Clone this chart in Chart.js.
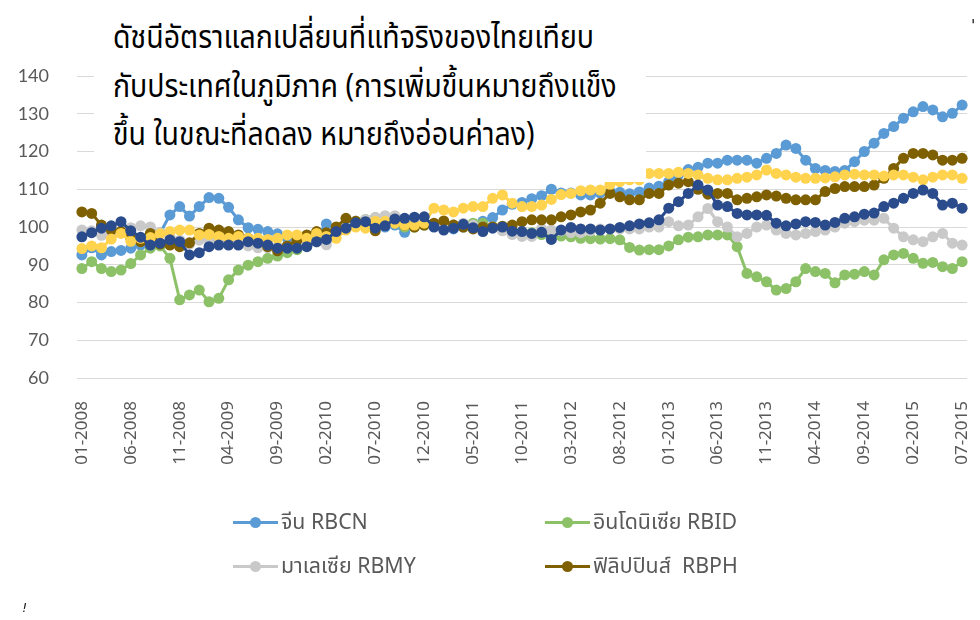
<!DOCTYPE html>
<html>
<head>
<meta charset="utf-8">
<script src="https://cdn.jsdelivr.net/npm/chart.js@4.4.0/dist/chart.umd.min.js"></script>
<style>
  html, body { margin: 0; padding: 0; background: #fff; }
  #wrap { position: relative; width: 980px; height: 620px; overflow: hidden; }
  #c { position: absolute; left: 0; top: 0; }
  #title {
    position: absolute; left: 94px; top: 8px; width: 552px; height: 174px;
    background: #fff; overflow: hidden;
  }
  #title div {
    position: absolute; left: 19px; white-space: nowrap; color: #000;
    font-family: "Noto Sans Thai", "Noto Sans", sans-serif; font-size: 32px; line-height: 40px;
    transform: scaleX(0.89); transform-origin: 0 0;
  }
  .lg { position: absolute; height: 24px; font-family: "Noto Sans Thai", "Noto Sans", sans-serif;
        font-size: 22px; color: #595959; white-space: pre; }
  .lg .sym { position: absolute; left: 0; top: 10px; width: 45px; height: 3px; }
  .lg .dot { position: absolute; left: 17px; top: 6px; width: 11px; height: 11px; border-radius: 50%; }
  .lg .txt { position: absolute; left: 48px; top: -5px; transform: scaleX(0.97); transform-origin: 0 0; }
  .mark { position: absolute; font-family: "DejaVu Sans", sans-serif; color: #222; }
</style>
</head>
<body>
<div id="wrap">
  <canvas id="c" width="980" height="620"></canvas>
  <div id="title">
    <div style="top:10px">ดัชนีอัตราแลกเปลี่ยนที่แท้จริงของไทยเทียบ</div>
    <div style="top:59px">กับประเทศในภูมิภาค (การเพิ่มขึ้นหมายถึงแข็ง</div>
    <div style="top:107px">ขึ้น ในขณะที่ลดลง หมายถึงอ่อนค่าลง)</div>
  </div>
  <span class="mark" style="left:971px; top:16px; font-size:16px;">'</span>
  <span class="mark" style="left:22px; top:600px; font-size:13px; font-style:italic;">!</span>
</div>
<script>
  // ==== DATA ====
  var months = [
    '01-2008','02-2008','03-2008','04-2008','05-2008','06-2008','07-2008','08-2008','09-2008','10-2008','11-2008','12-2008',
    '01-2009','02-2009','03-2009','04-2009','05-2009','06-2009','07-2009','08-2009','09-2009','10-2009','11-2009','12-2009',
    '01-2010','02-2010','03-2010','04-2010','05-2010','06-2010','07-2010','08-2010','09-2010','10-2010','11-2010','12-2010',
    '01-2011','02-2011','03-2011','04-2011','05-2011','06-2011','07-2011','08-2011','09-2011','10-2011','11-2011','12-2011',
    '01-2012','02-2012','03-2012','04-2012','05-2012','06-2012','07-2012','08-2012','09-2012','10-2012','11-2012','12-2012',
    '01-2013','02-2013','03-2013','04-2013','05-2013','06-2013','07-2013','08-2013','09-2013','10-2013','11-2013','12-2013',
    '01-2014','02-2014','03-2014','04-2014','05-2014','06-2014','07-2014','08-2014','09-2014','10-2014','11-2014','12-2014',
    '01-2015','02-2015','03-2015','04-2015','05-2015','06-2015','07-2015'
  ];
  var yTicks = [60, 70, 80, 90, 100, 110, 120, 130, 140];

  var rbcn = [92.6, 94.5, 92.6, 93.5, 93.8, 94.4, 95.2, 96.5, 98.4, 103.2,
    105.4, 102.9, 105.4, 107.8, 107.6, 105.2, 101.9, 99.8, 99.4, 98.8,
    98.2, 97.0, 96.5, 96.5, 97.5, 100.8, 99.5, 101.0, 101.5, 101.0,
    100.5, 100.0, 100.5, 98.6, 100.5, 101.0, 100.5, 100.0, 99.5, 100.0,
    100.5, 101.5, 102.5, 104.5, 106.0, 106.5, 107.5, 108.3, 110.0, 109.0,
    109.0, 108.5, 108.5, 109.0, 109.5, 109.2, 108.8, 109.3, 110.3, 110.8,
    112.0, 113.8, 115.2, 115.8, 116.9, 116.9, 117.7, 117.7, 117.7, 116.9,
    118.2, 119.5, 121.7, 120.8, 117.7, 115.5, 115.0, 114.7, 115.0, 117.3,
    120.0, 122.2, 124.8, 126.6, 128.8, 130.5, 131.9, 131.0, 129.2, 130.1,
    132.3];
  var rbid = [89.0, 90.8, 89.0, 88.2, 88.6, 90.3, 92.6, 94.4, 95.0, 91.7,
    80.7, 82.0, 83.3, 80.2, 81.1, 86.0, 88.6, 89.9, 90.8, 91.7,
    92.3, 93.2, 94.0, 95.0, 96.5, 98.0, 99.0, 100.5, 101.5, 102.0,
    102.5, 102.5, 101.0, 100.0, 100.0, 100.5, 100.5, 100.0, 100.5, 100.5,
    101.0, 101.0, 100.0, 99.5, 99.0, 98.5, 98.5, 98.0, 97.8, 97.6,
    97.4, 97.0, 96.9, 96.8, 96.9, 96.6, 94.6, 93.9, 94.0, 94.0,
    95.0, 96.6, 97.3, 97.4, 97.9, 97.9, 97.9, 94.8, 87.7, 86.8,
    85.5, 83.3, 83.7, 85.5, 89.0, 88.2, 87.7, 85.2, 87.3, 87.5,
    88.2, 87.3, 91.3, 92.6, 93.0, 91.7, 90.4, 90.6, 89.5, 89.0,
    90.8];
  var rbmy = [99.2, 99.0, 97.8, 98.0, 99.0, 99.8, 100.3, 100.0, 98.5, 97.5,
    96.5, 95.5, 96.5, 96.5, 96.0, 96.0, 95.5, 95.0, 94.5, 94.5,
    94.8, 95.0, 95.5, 96.0, 96.0, 95.3, 98.5, 100.0, 101.5, 102.0,
    102.5, 103.0, 103.0, 101.0, 100.5, 100.5, 100.5, 100.0, 100.5, 101.0,
    100.5, 100.0, 100.0, 99.0, 98.0, 97.5, 97.5, 99.5, 99.2, 99.0,
    98.5, 98.5, 99.0, 99.5, 99.5, 99.5, 99.5, 99.5, 100.0, 100.0,
    101.4, 100.3, 100.5, 102.7, 104.9, 101.4, 100.0, 97.4, 98.3, 100.0,
    100.5, 99.2, 98.3, 97.9, 98.3, 98.8, 99.2, 100.0, 101.0, 101.4,
    101.8, 101.8, 102.3, 99.7, 97.4, 96.6, 96.1, 97.4, 98.3, 95.7,
    95.2];
  var rbph = [104.0, 103.6, 100.5, 99.2, 98.8, 97.0, 96.1, 98.3, 95.5, 95.2,
    94.8, 95.8, 98.3, 99.7, 99.2, 98.8, 97.9, 97.0, 96.1, 94.8,
    93.7, 95.0, 96.5, 97.9, 98.8, 98.5, 100.0, 102.3, 101.5, 100.5,
    99.0, 101.0, 101.9, 100.5, 100.0, 100.5, 101.0, 101.6, 100.5, 100.0,
    99.5, 100.0, 100.0, 100.2, 100.5, 101.4, 101.9, 101.9, 101.9, 102.7,
    103.2, 104.0, 104.5, 106.3, 108.9, 108.0, 107.2, 107.2, 108.9, 108.9,
    111.1, 111.6, 112.0, 110.0, 108.7, 108.9, 108.9, 107.2, 107.6, 108.0,
    108.5, 108.2, 107.6, 107.2, 107.2, 107.2, 109.4, 110.2, 110.7, 110.7,
    110.7, 111.1, 112.9, 115.5, 118.2, 119.5, 119.5, 119.1, 117.7, 117.7,
    118.2];
  var rbsg = [94.3, 95.0, 94.5, 96.8, 98.3, 96.2, 97.0, 97.2, 98.2, 98.8,
    99.2, 99.2, 97.9, 98.0, 97.5, 97.0, 97.5, 97.0, 97.0, 96.7,
    97.0, 97.9, 97.9, 97.0, 98.3, 97.5, 97.0, 99.2, 100.0, 99.7,
    101.5, 101.5, 101.0, 100.5, 100.5, 101.0, 105.0, 104.5, 104.0, 105.0,
    105.4, 105.4, 107.6, 108.5, 106.3, 105.4, 105.4, 105.8, 107.3, 108.6,
    108.9, 109.6, 109.8, 109.8, 111.3, 112.0, 112.5, 112.5, 114.2, 114.2,
    114.2, 114.5, 114.2, 113.8, 112.9, 112.5, 112.5, 112.9, 113.2, 113.8,
    115.1, 114.2, 113.8, 113.2, 112.9, 112.9, 113.0, 113.3, 113.8, 114.0,
    113.8, 113.8, 113.5, 113.8, 113.8, 113.2, 112.5, 113.2, 113.8, 113.8,
    112.9];
  var rbvn = [97.4, 98.5, 99.7, 100.3, 101.4, 99.0, 97.3, 95.2, 95.7, 96.6,
    96.1, 92.6, 93.2, 94.8, 95.2, 95.2, 95.2, 96.1, 95.7, 95.2,
    94.4, 94.4, 94.4, 94.8, 96.1, 96.7, 98.8, 99.7, 101.1, 101.4,
    99.7, 100.3, 102.1, 102.3, 102.6, 102.7, 100.0, 99.2, 99.7, 100.7,
    99.8, 98.8, 99.7, 100.0, 98.9, 98.8, 98.3, 98.6, 96.7, 99.2,
    99.9, 99.5, 99.5, 99.2, 99.5, 99.9, 100.3, 100.8, 101.1, 101.9,
    105.0, 106.7, 108.9, 111.1, 109.8, 105.8, 105.4, 103.6, 103.2, 103.2,
    103.1, 101.0, 100.3, 100.8, 101.4, 101.2, 100.5, 101.2, 102.3, 102.7,
    103.4, 103.7, 105.4, 106.3, 107.6, 108.9, 109.8, 108.9, 105.8, 106.3,
    105.0];

  var seriesNames = ['จีน RBCN', 'อินโดนิเซีย RBID', 'มาเลเซีย RBMY', 'ฟิลิปปินส์  RBPH', 'สิงคโปร์ RBSG', 'เวียดนาม RBVN'];
  var seriesColors = ['#5B9BD5', '#8CC168', '#C9C9C9', '#7F6000', '#FFD34E', '#2B4C8C'];
  var seriesData = [rbcn, rbid, rbmy, rbph, rbsg, rbvn];
  var drawOrder = [5, 4, 3, 2, 1, 0];   // navy on top, blue at bottom
  var legendShown = [true, true, true, true, false, false];

  // ==== CHART ====
  var datasets = seriesData.map(function (d, i) {
    return {
      label: seriesNames[i], data: d, order: drawOrder[i],
      borderColor: seriesColors[i], backgroundColor: seriesColors[i],
      borderWidth: 3, pointRadius: 5.5, pointBorderWidth: 0, pointHoverRadius: 5.5,
      tension: 0, fill: false
    };
  });

  new Chart(document.getElementById('c').getContext('2d'), {
    type: 'line',
    data: { labels: months, datasets: datasets },
    options: {
      responsive: false, animation: false,
      layout: { padding: { left: 0, right: 13, top: 76, bottom: 142 } },
      plugins: { legend: { display: false }, tooltip: { enabled: false } },
      scales: {
        x: {
          offset: true,
          grid: { display: false }, border: { display: false },
          ticks: {
            autoSkip: false, minRotation: 90, maxRotation: 90, padding: 15,
            color: '#595959', font: { family: 'Noto Sans', size: 17 },
            callback: function (v, i) { return i % 5 === 0 ? months[i] : ''; }
          },
          afterFit: function (s) { s.height = 100; s.paddingLeft = 0; s.paddingRight = 0; }
        },
        y: {
          min: 60, max: 140,
          afterBuildTicks: function (s) { s.ticks = yTicks.map(function (v) { return { value: v }; }); },
          grid: { color: '#D9D9D9', lineWidth: 1, drawTicks: false }, border: { display: false },
          ticks: { padding: 28, color: '#595959', font: { family: 'Lato', size: 18 } },
          afterFit: function (s) { s.width = 77; s.paddingTop = 0; s.paddingBottom = 0; }
        }
      }
    }
  });

  // ==== LEGEND ====
  var lgPos = [[233, 511], [545, 511], [233, 555], [545, 555]];
  var wrap = document.getElementById('wrap'), k = 0;
  for (var i = 0; i < seriesNames.length; i++) {
    if (!legendShown[i]) continue;
    var el = document.createElement('div');
    el.className = 'lg';
    el.style.left = lgPos[k][0] + 'px'; el.style.top = lgPos[k][1] + 'px';
    el.innerHTML = '<span class="sym" style="background:' + seriesColors[i] + '"></span>' +
      '<span class="dot" style="background:' + seriesColors[i] + '"></span>' +
      '<span class="txt">' + seriesNames[i] + '</span>';
    wrap.appendChild(el);
    k++;
  }
</script>
</body>
</html>
